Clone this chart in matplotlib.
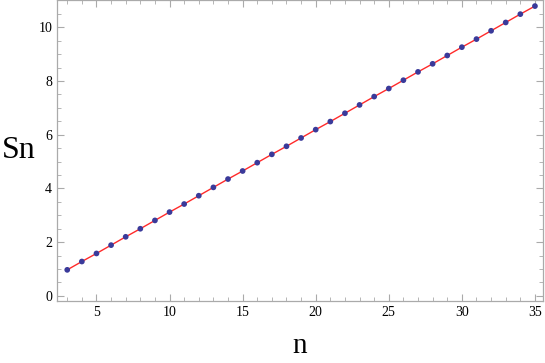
import matplotlib
matplotlib.use("Agg")
import matplotlib.pyplot as plt
from matplotlib.ticker import MultipleLocator

# data
n = list(range(3, 36))
sn = [0.97, 1.28, 1.58, 1.89, 2.20, 2.50, 2.81, 3.12, 3.42, 3.73,
      4.04, 4.35, 4.65, 4.96, 5.27, 5.57, 5.88, 6.19, 6.49, 6.80,
      7.11, 7.42, 7.72, 8.03, 8.34, 8.64, 8.95, 9.26, 9.56, 9.87,
      10.18, 10.49, 10.79]

plt.rcParams['font.family'] = ['Liberation Serif', 'DejaVu Serif']

fig = plt.figure(figsize=(5.45, 3.63), dpi=100)
ax = fig.add_axes([0.1046, 0.1708, 0.8917, 0.8280])

ax.plot(n, sn, color='#ff2a2a', lw=1.0, zorder=2)
ax.scatter(n, sn, color='#3a3a9a', s=17, zorder=3, edgecolors='none')

ax.set_xlim(2.3, 35.55)
ax.set_ylim(-0.19, 11.0)

ax.xaxis.set_major_locator(MultipleLocator(5))
ax.xaxis.set_minor_locator(MultipleLocator(1))
ax.yaxis.set_major_locator(MultipleLocator(2))
ax.yaxis.set_minor_locator(MultipleLocator(0.5))

for s in ax.spines.values():
    s.set_color('#aaaaaa')
    s.set_linewidth(0.9)

ax.tick_params(which='both', direction='in', top=True, right=True,
               color='#aaaaaa', labelsize=10)
ax.tick_params(which='major', length=5, width=0.8)
ax.tick_params(which='minor', length=2.8, width=0.6)

ax.set_xlabel('n', fontsize=21, labelpad=10)
ax.set_ylabel('Sn', fontsize=23, rotation=0, labelpad=14, va='center')

fig.savefig('out.png', dpi=100)
